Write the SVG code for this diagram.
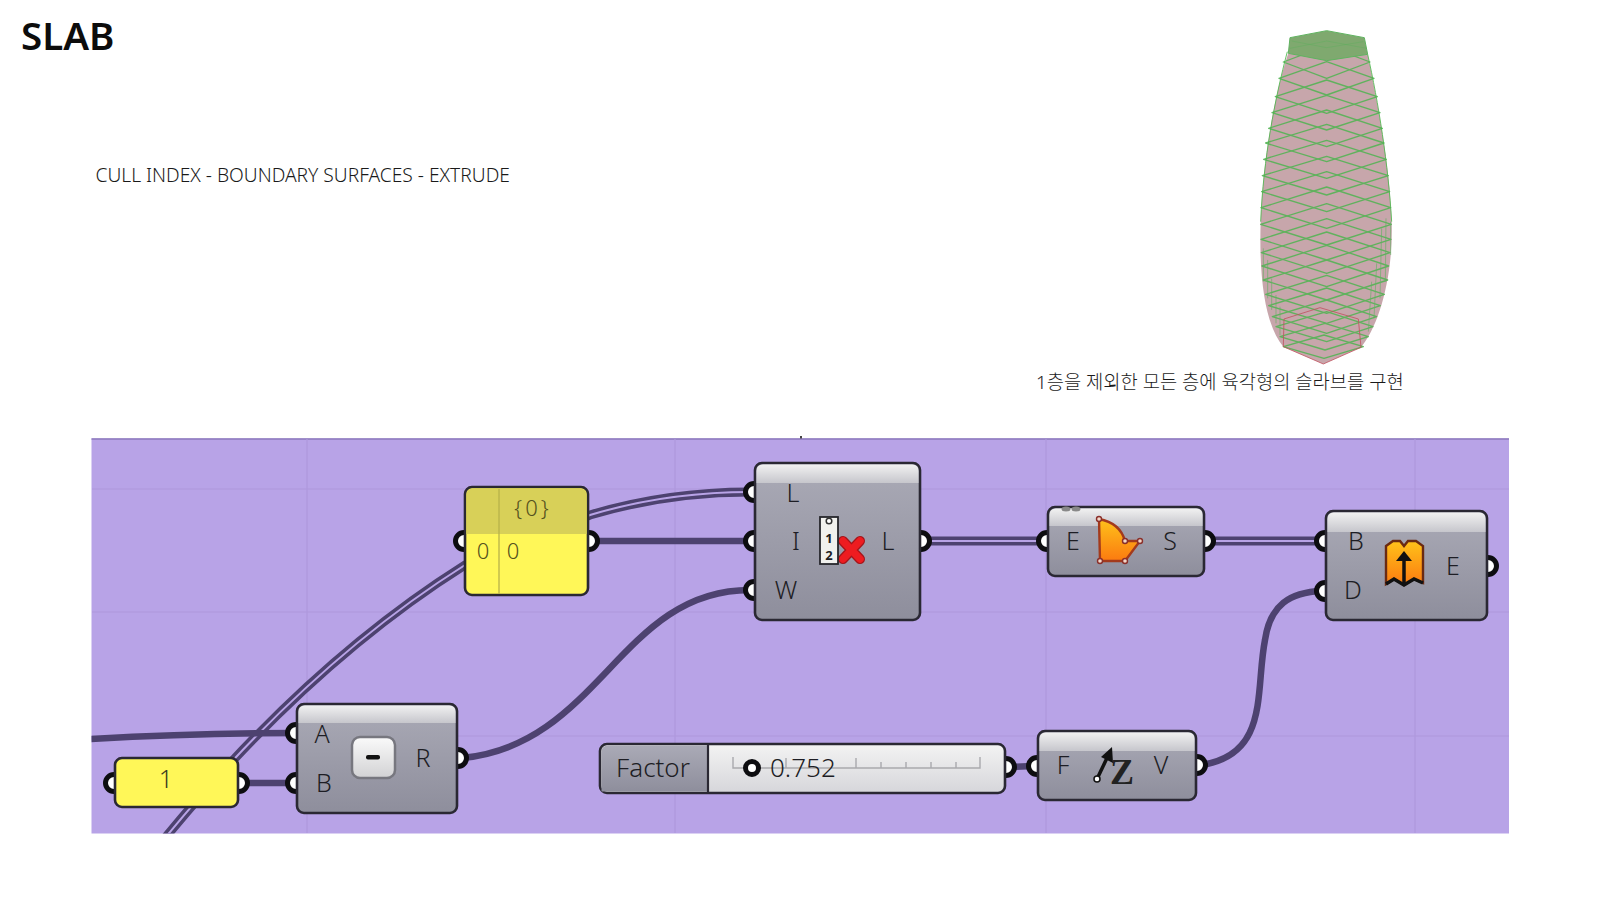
<svg xmlns="http://www.w3.org/2000/svg" width="1600" height="900" viewBox="0 0 1600 900">
<style>
text{font-family:"Noto Sans","Noto Sans CJK KR",sans-serif;fill:#1d1d24}
.lbl{font-size:25px;font-weight:300;text-anchor:middle}
.wire{fill:none;stroke:#4d4270;stroke-width:6.500}
.dbl{fill:none;stroke:#4d4270;stroke-width:9}
.dblc{fill:none;stroke:#b8a3e6;stroke-width:2}
.port{fill:#fff;stroke:#0d0d10;stroke-width:5}
.body{fill:url(#bodyG);stroke:#2a2833;stroke-width:2.600}
.hd{fill:url(#headG)}
.yel{fill:#fff758;stroke:#2a2833;stroke-width:2.600}
.grid{stroke:#ae98dc;stroke-width:1.200;fill:none}
.floor{fill:none;stroke:#55b455;stroke-width:4;stroke-linejoin:round;opacity:.9}
.side{fill:none;stroke:#62b062;stroke-width:2.200;opacity:.85}
</style>
<defs>
<linearGradient id="bodyG" x1="0" y1="0" x2="0" y2="1"><stop offset="0" stop-color="#aaaab6"/><stop offset="1" stop-color="#8e8e9c"/></linearGradient>
<linearGradient id="headG" x1="0" y1="0" x2="0" y2="1"><stop offset="0" stop-color="#f1f1f1"/><stop offset="1" stop-color="#c6c6cc"/></linearGradient>
<linearGradient id="slideG" x1="0" y1="0" x2="0" y2="1"><stop offset="0" stop-color="#f3f3f3"/><stop offset="1" stop-color="#d6d6da"/></linearGradient>
<linearGradient id="orangeG" x1="0" y1="0" x2="0" y2="1"><stop offset="0" stop-color="#ffc21a"/><stop offset="1" stop-color="#fb7a10"/></linearGradient>
<linearGradient id="minusG" x1="0" y1="0" x2="0" y2="1"><stop offset="0" stop-color="#fafafa"/><stop offset="1" stop-color="#d2d2d4"/></linearGradient>
<clipPath id="canvasClip"><rect x="91.500" y="438.500" width="1417.500" height="395"/></clipPath>
</defs>
<rect width="1600" height="900" fill="#fff"/>
<text x="21" y="50" font-size="38.500" font-weight="600" style="fill:#0c0c0c">SLAB</text>
<text x="95.500" y="182" font-size="19.200" font-weight="300" style="fill:#1a1a1a">CULL INDEX - BOUNDARY SURFACES - EXTRUDE</text>
<text x="1036" y="389" font-size="18.750" font-weight="300" style="fill:#1a1a1a">1층을 제외한 모든 층에 육각형의 슬라브를 구현</text>
<g id="tower" transform="translate(1200 15) scale(.33333)">
<path d="M265,115 C235,200 190,400 182,620 C176,810 200,935 250,995 L370,1047 L483,997 C535,935 580,790 575,620 C570,450 530,250 503,118 Z" fill="#c7a6ab"/>
<g class="floor">
<polygon points="250,141 380,190 510,141 380,92"/>
<polygon points="237,190 380,240 522,190 380,140"/>
<polygon points="226,245 380,295 532,245 380,195"/>
<polygon points="216,293 380,345 540,293 380,241"/>
<polygon points="206,340 380,395 547,340 380,285"/>
<polygon points="197,384 380,440 552,384 380,328"/>
<polygon points="191,433 380,490 559,433 380,376"/>
<polygon points="187,482 380,540 565,482 380,424"/>
<polygon points="185,530 380,590 569,530 380,470"/>
<polygon points="183,578 380,640 572,578 380,516"/>
<polygon points="182,628 380,690 574,628 380,566"/>
<polygon points="183,673 380,735 573,673 380,611"/>
<polygon points="184,713 380,775 570,713 380,651"/>
<polygon points="186,753 380,815 566,753 380,691"/>
<polygon points="190,795 380,855 563,795 380,735"/>
<polygon points="197,838 380,895 553,838 380,781"/>
<polygon points="206,872 380,925 541,872 380,819"/>
<polygon points="217,905 380,955 530,905 380,855"/>
<polygon points="228,935 380,980 519,935 380,890"/>
<polygon points="240,965 375,1005 505,965 375,925"/>
<polygon points="250,995 372,1030 490,995 372,960"/>
</g>
<g class="side">
<path d="M190,700 L190,800 M203,735 L203,850 M215,790 L215,885 M228,840 L228,925 M240,875 L240,960 M572,620 L572,720 M558,610 L556,800 M545,640 L540,850 M530,745 L522,910 M515,800 L505,950"/>
<path d="M182,620 C190,430 225,250 262,110 M575,620 C565,450 535,260 503,118" stroke="#4cb84c" stroke-width="3"/>
</g>
<polygon points="270,68 380,47 493,68 503,118 380,137 265,115" fill="#7fa96f" stroke="#5fb35f" stroke-width="3"/>
<path d="M270,100 L380,78 L500,100 M275,78 L380,98 L490,80" fill="none" stroke="#5aad5a" stroke-width="2" opacity=".6"/>
<polygon points="360,878 475,912 483,997 370,1047 250,995 252,912" fill="none" stroke="#c0505e" stroke-width="2.400"/>
</g>
<g id="canvas">
<rect x="91.500" y="438.500" width="1417.500" height="395" fill="#b8a3e7"/>
<path d="M91.500,439 H1509" stroke="#8d79bd" stroke-width="1.500"/>
<rect x="800" y="436" width="2" height="2.500" fill="#444"/>
<path class="grid" d="M307,439V833M675,439V833M1046,439V833M1415,439V833M92,489H1509M92,612H1509M92,736H1509"/>
</g>
<g id="connectors" clip-path="url(#canvasClip)">
<path class="dbl" d="M165,838 C225,765 330,650 465,565 L590,515 C640,500 690,492 750,492"/>
<path class="dblc" d="M165,838 C225,765 330,650 465,565 L590,515 C640,500 690,492 750,492"/>
<path class="wire" d="M91,739 C160,735 230,733 297,733"/>
<path class="wire" d="M243,783 H297"/>
<path class="wire" d="M462,758 C600,745 620,590 750,590"/>
<path class="wire" d="M590,541 H750"/>
<path class="dbl" d="M925,541 H1043"/><path class="dblc" d="M925,541 H1043"/>
<path class="dbl" d="M1209,541 H1322"/><path class="dblc" d="M1209,541 H1322"/>
<path class="wire" d="M1010,767 L1033,766"/>
<path class="wire" d="M1201,765 C1270,755 1255,690 1265,640 C1270,605 1290,592 1322,591"/>
</g>
<g id="node-panel">
<circle class="port" cx="464" cy="541" r="8.500"/><circle class="port" cx="589" cy="541" r="8.500"/>
<rect class="yel" x="465" y="487" width="123" height="108" rx="7"/>
<path d="M466.500,534 V495 Q466.500,488.500 473,488.500 H580 Q586.500,488.500 586.500,495 V534 Z" fill="#d8d058"/>
<path d="M499,489V594" stroke="#b8b24a" stroke-width="1.300"/>
<text x="533" y="516" font-size="22" font-weight="300" text-anchor="middle" style="fill:#55521e;letter-spacing:3px">{0}</text>
<text x="483" y="559" font-size="22" font-weight="300" text-anchor="middle" style="fill:#55521e">0</text>
<text x="513" y="559" font-size="22" font-weight="300" text-anchor="middle" style="fill:#55521e">0</text>
</g>
<g id="node-cull">
<circle class="port" cx="754" cy="492" r="8.500"/><circle class="port" cx="754" cy="541" r="8.500"/><circle class="port" cx="754" cy="590" r="8.500"/><circle class="port" cx="921" cy="541" r="8.500"/>
<rect class="body" x="755" y="463" width="165" height="157" rx="7"/>
<path class="hd" d="M756.500,483 V471 Q756.500,464.500 763,464.500 H912 Q918.500,464.500 918.500,471 V483 Z"/>
<text class="lbl" x="793" y="502">L</text><text class="lbl" x="796" y="550">I</text><text class="lbl" x="786" y="599">W</text><text class="lbl" x="888" y="550">L</text>
<path d="M843,541 L860,559 M860,541 L843,559" fill="none" stroke="#a5151a" stroke-width="10" stroke-linecap="round"/>
<path d="M843,541 L860,559 M860,541 L843,559" fill="none" stroke="#ee1c20" stroke-width="7.500" stroke-linecap="round"/>
<rect x="820" y="517" width="18" height="47" fill="#f1f1ee" stroke="#26262c" stroke-width="1.800"/>
<circle cx="829" cy="521" r="2.800" fill="#fff" stroke="#333" stroke-width="1.500"/>
<text x="829" y="543" font-size="13" font-weight="700" text-anchor="middle">1</text>
<text x="829" y="560" font-size="13" font-weight="700" text-anchor="middle">2</text>
</g>
<g id="node-surface">
<circle class="port" cx="1047" cy="541" r="8.500"/><circle class="port" cx="1205" cy="541" r="8.500"/>
<rect class="body" x="1048" y="507" width="156" height="69" rx="7"/>
<path class="hd" d="M1049.500,526 V515 Q1049.500,508.500 1056,508.500 H1196 Q1202.500,508.500 1202.500,515 V526 Z"/>
<ellipse cx="1066" cy="509" rx="4.500" ry="2.500" fill="#888"/><ellipse cx="1076" cy="509" rx="4.500" ry="2.500" fill="#888"/>
<text class="lbl" x="1073" y="550">E</text><text class="lbl" x="1170" y="550">S</text>
<path d="M1099,519 C1115,522 1122,530 1125,541 L1140,541 L1125,561 L1100,561 Z" fill="url(#orangeG)" stroke="#a33a1c" stroke-width="2.400"/>
<g fill="#f2d6c8" stroke="#8a2f2a" stroke-width="1.400"><circle cx="1099" cy="519" r="2.500"/><circle cx="1125" cy="541" r="2.500"/><circle cx="1140" cy="541" r="2.500"/><circle cx="1125" cy="561" r="2.500"/><circle cx="1100" cy="561" r="2.500"/></g>
</g>
<g id="node-extrude">
<circle class="port" cx="1325" cy="541" r="8.500"/><circle class="port" cx="1325" cy="591" r="8.500"/><circle class="port" cx="1488" cy="566" r="8.500"/>
<rect class="body" x="1326" y="511" width="161" height="109" rx="7"/>
<path class="hd" d="M1327.500,532 V519 Q1327.500,512.500 1334,512.500 H1479 Q1485.500,512.500 1485.500,519 V532 Z"/>
<text class="lbl" x="1356" y="550">B</text><text class="lbl" x="1353" y="599">D</text><text class="lbl" x="1453" y="575">E</text>
<path d="M1386,546 L1393,541 L1400,541 L1404,546 L1408,541 L1416,541 L1423,546 V583 L1414,579 L1404,585 L1394,579 L1386,584 Z" fill="url(#orangeG)" stroke="#6a2a12" stroke-width="2.400"/>
<path d="M1386,584 L1394,579 L1404,585 L1414,579 L1423,583" fill="none" stroke="#111" stroke-width="3.500"/>
<path d="M1404,585 V558" stroke="#111" stroke-width="3.500"/><path d="M1404,551 L1396,561 H1412 Z" fill="#111"/>
</g>
<g id="node-one">
<circle class="port" cx="114" cy="783" r="8.500"/><circle class="port" cx="239" cy="783" r="8.500"/>
<rect class="yel" x="115" y="758" width="123" height="49" rx="7"/>
<text x="166" y="788" font-size="25" font-weight="300" text-anchor="middle" style="fill:#3c3c20">1</text>
</g>
<g id="node-subtract">
<circle class="port" cx="296" cy="733" r="8.500"/><circle class="port" cx="296" cy="783" r="8.500"/><circle class="port" cx="458" cy="758" r="8.500"/>
<rect class="body" x="297" y="704" width="160" height="109" rx="7"/>
<path class="hd" d="M298.500,723 V712 Q298.500,705.500 305,705.500 H449 Q455.500,705.500 455.500,712 V723 Z"/>
<text class="lbl" x="322" y="743">A</text><text class="lbl" x="324" y="792">B</text><text class="lbl" x="423" y="767">R</text>
<rect x="352" y="737" width="43" height="41" rx="8" fill="url(#minusG)" stroke="#77777f" stroke-width="2.500"/>
<rect x="366" y="755" width="14" height="4.500" rx="2" fill="#111"/>
</g>
<g id="node-slider">
<circle class="port" cx="1006" cy="767" r="8.500"/>
<rect x="600" y="744" width="405" height="49" rx="7" fill="url(#slideG)" stroke="#2a2833" stroke-width="2.600"/>
<path d="M601.500,791.500 H708 V745.500 H608 Q601.500,745.500 601.500,752 Z" fill="url(#bodyG)"/>
<path d="M708,745V792" stroke="#2a2833" stroke-width="2.200"/>
<path d="M733,757V768H980V757M786,758V768M856,758V768M881,762V768M906,762V768M931,762V768M956,762V768" fill="none" stroke="#a9a9ad" stroke-width="1.400"/>
<text x="653" y="777" font-size="26" font-weight="300" text-anchor="middle">Factor</text>
<circle cx="752" cy="768" r="6.500" fill="#fff" stroke="#0d0d10" stroke-width="5"/>
<text x="770" y="777" font-size="26" font-weight="300">0.752</text>
</g>
<g id="node-unitz">
<circle class="port" cx="1037" cy="766" r="8.500"/><circle class="port" cx="1197" cy="765" r="8.500"/>
<rect class="body" x="1038" y="731" width="158" height="69" rx="7"/>
<path class="hd" d="M1039.500,751 V739 Q1039.500,732.500 1046,732.500 H1188 Q1194.500,732.500 1194.500,739 V751 Z"/>
<text class="lbl" x="1063" y="774">F</text><text class="lbl" x="1161" y="774">V</text>
<path d="M1097,779 L1107,758" stroke="#111" stroke-width="3.500"/><path d="M1112,747 L1113,763 L1101,757 Z" fill="#111"/>
<circle cx="1097" cy="779" r="3" fill="#fff" stroke="#111" stroke-width="1.500"/>
<text x="1122" y="784" font-size="36" font-weight="700" text-anchor="middle" style="font-family:'Liberation Serif',serif;fill:#222">Z</text>
</g>
</svg>
